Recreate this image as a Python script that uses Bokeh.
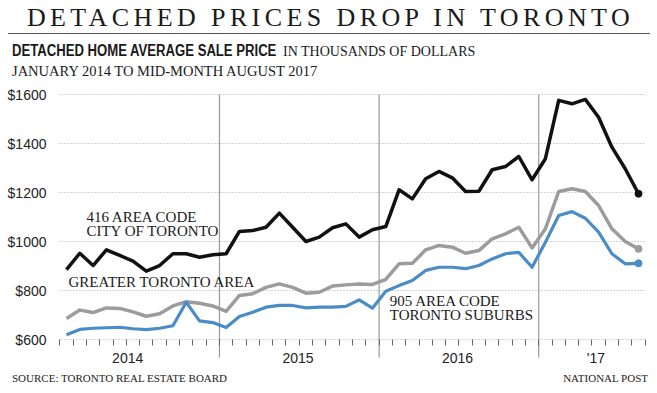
from bokeh.plotting import figure
from bokeh.models import Range1d, FixedTicker, Label, Div
from bokeh.layouts import column
from bokeh.embed import file_html
from bokeh.resources import INLINE

# ---- data (monthly, Jan 2014 .. mid-month Aug 2017), thousands of dollars ----
months = list(range(44))
city_416 = [885, 952, 902, 966, 943, 920, 879, 902, 950, 950, 936, 946,
            950, 1041, 1045, 1058, 1116, 1058, 1000, 1018, 1056, 1072, 1018, 1048,
            1061, 1211, 1174, 1256, 1286, 1260, 1204, 1205, 1293, 1306, 1347, 1252,
            1338, 1576, 1562, 1580, 1507, 1385, 1297, 1195]
gta = [686, 720, 710, 729, 727, 713, 695, 705, 737, 754, 748, 737,
       715, 780, 787, 813, 827, 813, 789, 793, 818, 823, 827, 825,
       845, 909, 911, 966, 984, 977, 952, 963, 1011, 1031, 1058, 974,
       1052, 1204, 1215, 1204, 1147, 1052, 1000, 970]
suburbs_905 = [619, 641, 646, 648, 650, 644, 640, 646, 656, 752, 676, 669,
               649, 694, 711, 732, 739, 739, 729, 732, 732, 735, 762, 728,
               797, 820, 841, 882, 895, 895, 889, 902, 929, 950, 956, 895,
               997, 1106, 1122, 1095, 1038, 950, 909, 911]

y_ticks = [600, 800, 1000, 1200, 1400, 1600]
y_tick_labels = ["$600", "$800", "$1000", "$1200", "$1400", "$1600"]
year_labels = ["2014", "2015", "2016", "'17"]
year_label_pos = [4.6, 17.4, 29.4, 39.8]

title = "DETACHED PRICES DROP IN TORONTO"
sub_bold = "DETACHED HOME AVERAGE SALE PRICE"
sub_units = "IN THOUSANDS OF DOLLARS"
sub_range = "JANUARY 2014 TO MID-MONTH AUGUST 2017"
source = "SOURCE: TORONTO REAL ESTATE BOARD"
credit = "NATIONAL POST"

SANS = "Liberation Sans"
SERIF = "Liberation Serif"
BLACK = "#111111"
GRAY = "#9c9c9c"
BLUE = "#4a8cc8"
TEXT = "#1a1a1a"

# ---- header ----
header_html = f"""
<div style="position:relative;width:657px;height:84px;color:{TEXT};">
  <div style="position:absolute;left:0;top:3px;width:657px;padding-left:4px;box-sizing:border-box;text-align:center;font-family:'{SERIF}';font-size:26px;line-height:30px;letter-spacing:4.4px;white-space:nowrap;">{title}</div>
  <div style="position:absolute;left:8px;top:33px;width:642px;height:0;border-top:1.5px solid #555;"></div>
  <div style="position:absolute;left:12px;top:43px;line-height:16px;white-space:nowrap;font-family:'{SANS}';font-weight:bold;font-size:16px;transform:scaleX(0.82);transform-origin:0 0;">{sub_bold}</div>
  <div style="position:absolute;left:283px;top:44px;line-height:16px;white-space:nowrap;font-family:'{SERIF}';font-size:14px;">{sub_units}</div>
  <div style="position:absolute;left:12px;top:63px;font-family:'{SERIF}';font-size:14.5px;line-height:16px;white-space:nowrap;">{sub_range}</div>
</div>
"""
header = Div(text=header_html, width=657, height=84, margin=(0, 0, 0, 0))

footer_html = f"""
<div style="position:relative;width:657px;height:20px;color:#222;font-family:'{SERIF}';font-size:11px;">
  <div style="position:absolute;left:12px;top:2px;line-height:12px;white-space:nowrap;">{source}</div>
  <div style="position:absolute;right:9px;top:2px;line-height:12px;white-space:nowrap;">{credit}</div>
</div>
"""
footer = Div(text=footer_html, width=657, height=20, margin=(0, 0, 0, 0))

# ---- chart ----
y_start, y_end = 473.5, 1608.2
divider_bottom = 527
p = figure(width=650, height=286,
           x_range=Range1d(-0.6, 43.6), y_range=Range1d(y_start, y_end),
           output_backend="svg", toolbar_location=None,
           min_border_left=58, min_border_right=4, min_border_top=8, min_border_bottom=0)
p.outline_line_color = None
p.background_fill_color = "white"
p.border_fill_color = "white"

yt = FixedTicker(ticks=y_ticks)
p.yaxis.ticker = yt
p.yaxis.major_label_overrides = dict(zip(y_ticks, y_tick_labels))
p.yaxis.axis_line_color = None
p.yaxis.major_tick_line_color = None
p.yaxis.minor_tick_line_color = None
p.yaxis.major_label_standoff = 6
p.yaxis.major_label_text_font = SANS
p.yaxis.major_label_text_font_size = "14px"
p.yaxis.major_label_text_color = "#222222"

xt = FixedTicker(ticks=year_label_pos, minor_ticks=[m - 0.5 for m in range(len(months) + 1)])
p.xaxis.ticker = xt
p.xaxis.major_label_overrides = dict(zip(year_label_pos, year_labels))
p.xaxis.fixed_location = y_ticks[0]
p.xaxis.axis_line_color = None
p.xaxis.major_tick_line_color = None
p.xaxis.major_tick_out = 0
p.xaxis.major_tick_in = 0
p.xaxis.minor_tick_out = 6
p.xaxis.minor_tick_in = 0
p.xaxis.minor_tick_line_color = "#666666"
p.xaxis.major_label_standoff = 4
p.xaxis.major_label_text_font = SANS
p.xaxis.major_label_text_font_size = "14px"
p.xaxis.major_label_text_color = "#222222"

p.xgrid.grid_line_color = None
p.ygrid.grid_line_color = "#aaaaaa"
p.ygrid.grid_line_dash = "1 2"
p.ygrid.grid_line_width = 1

# year dividers
div_x = [12 * k - 0.5 for k in range(1, 4)]
p.segment(x0=div_x, y0=[y_ticks[-1]] * 3, x1=div_x, y1=[divider_bottom] * 3,
          line_color="#999999", line_width=1.2)

# series
p.line(months, gta, line_color=GRAY, line_width=3.5, line_join="round")
p.line(months, suburbs_905, line_color=BLUE, line_width=3.2, line_join="round")
p.line(months, city_416, line_color=BLACK, line_width=3.5, line_join="round")
p.scatter([months[-1]], [gta[-1]], size=7, color=GRAY)
p.scatter([months[-1]], [suburbs_905[-1]], size=7, color=BLUE)
p.scatter([months[-1]], [city_416[-1]], size=7, color=BLACK)

# annotations
def note(x, y, text):
    p.add_layout(Label(x=x, y=y, text=text, text_font=SERIF, text_font_size="15px",
                       text_color=TEXT, text_baseline="middle", text_align="left"))

note(1.5, 1102, "416 AREA CODE")
note(1.5, 1043, "CITY OF TORONTO")
note(0.15, 835, "GREATER TORONTO AREA")
note(24.3, 759, "905 AREA CODE")
note(24.3, 700, "TORONTO SUBURBS")

layout = column(header, p, footer, spacing=0)
open("out.html", "w").write(file_html(layout, INLINE))
